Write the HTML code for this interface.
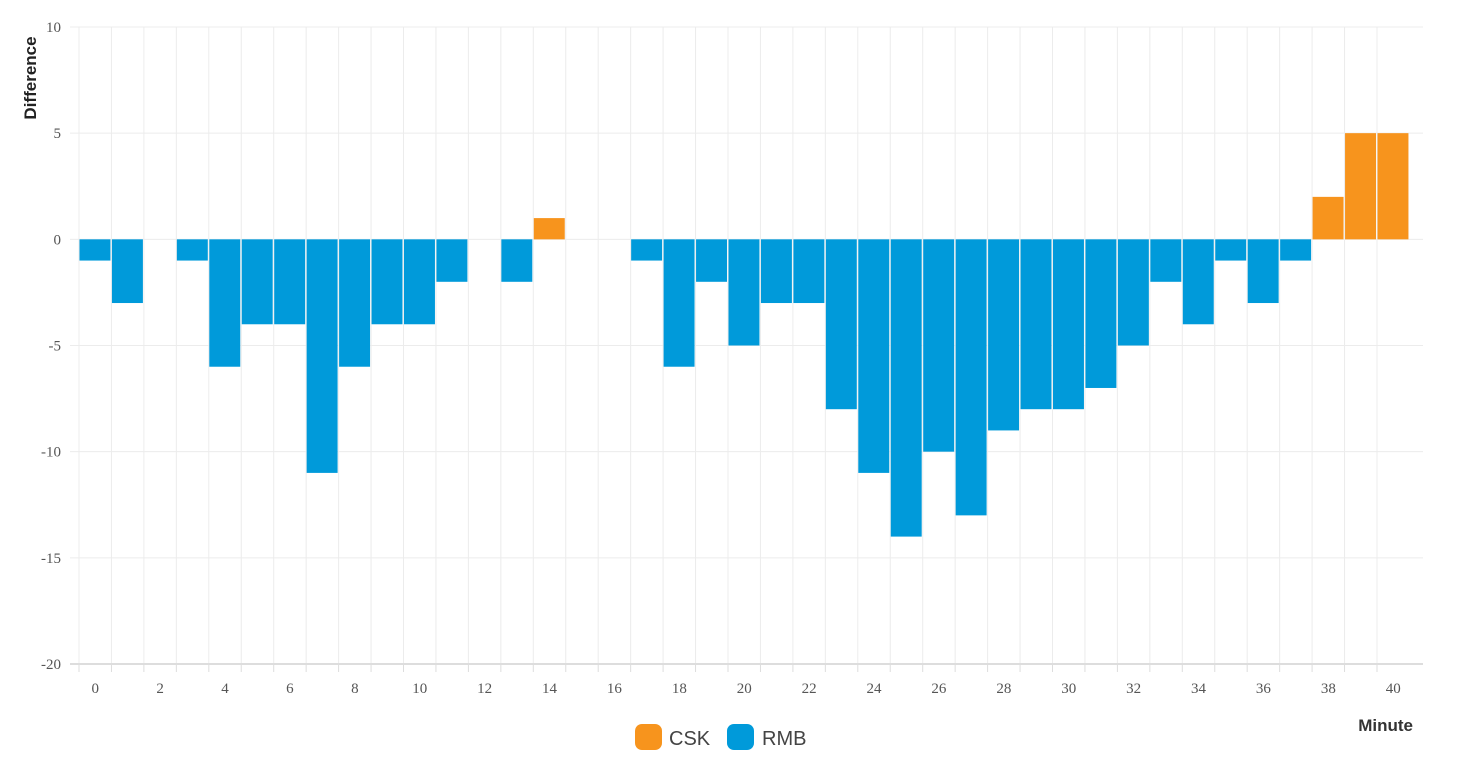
<!DOCTYPE html>
<html><head><meta charset="utf-8"><style>
body{margin:0;background:#fff;width:1460px;height:779px;overflow:hidden;font-family:"Liberation Sans",sans-serif}
svg text{font-family:"Liberation Serif",serif}
</style></head><body>
<svg id="chart" width="1460" height="779" xmlns="http://www.w3.org/2000/svg">
<g id="grid"></g>
<g id="bars"></g>
<g id="axes"></g>
<text transform="translate(36,78) rotate(-90)" text-anchor="middle" style="font-family:'Liberation Sans',sans-serif;font-weight:bold;font-size:17px" fill="#222">Difference</text>
<text x="1413" y="731" text-anchor="end" style="font-family:'Liberation Sans',sans-serif;font-weight:bold;font-size:17px" fill="#333">Minute</text>
<g>
<g><rect x="635" y="724" width="27" height="26" rx="7" fill="#f7941d"/><text x="669" y="745" style="font-family:'Liberation Sans',sans-serif;font-size:20px" fill="#444">CSK</text></g>
<g><rect x="727" y="724" width="27" height="26" rx="7" fill="#009ada"/><text x="762" y="745" style="font-family:'Liberation Sans',sans-serif;font-size:20px" fill="#444">RMB</text></g>
</g>
</svg>
<script>
const minutes = [0,1,2,3,4,5,6,7,8,9,10,11,12,13,14,15,16,17,18,19,20,21,22,23,24,25,26,27,28,29,30,31,32,33,34,35,36,37,38,39,40];
const differences = [-1,-3,0,-1,-6,-4,-4,-11,-6,-4,-4,-2,0,-2,1,0,0,-1,-6,-2,-5,-3,-3,-8,-11,-14,-10,-13,-9,-8,-8,-7,-5,-2,-4,-1,-3,-1,2,5,5];
const yTicks = [-20,-15,-10,-5,0,5,10];
const xTickLabels = [0,2,4,6,8,10,12,14,16,18,20,22,24,26,28,30,32,34,36,38,40];
const NS='http://www.w3.org/2000/svg';
const x0=79, step=32.45, plotRight=1423;
const yTop=27, yBot=664, yMin=-20, yMax=10;
function xs(i){return x0+i*step;}
function ys(v){return yTop+(yMax-v)/(yMax-yMin)*(yBot-yTop);}
function mk(t,a,parent){const e=document.createElementNS(NS,t);for(const k in a)e.setAttribute(k,a[k]);parent.appendChild(e);return e;}
const grid=document.getElementById('grid'),bars=document.getElementById('bars'),axes=document.getElementById('axes');
for(let i=0;i<minutes.length;i++){
  const l=mk('line',{x1:xs(i),x2:xs(i),y1:yTop,y2:yBot,stroke:'#ececec','stroke-width':1},grid);
  
  
  const t=mk('line',{x1:xs(i),x2:xs(i),y1:yBot,y2:yBot+8,stroke:'#ddd','stroke-width':1},axes);
  
  
}
yTicks.forEach(v=>{
  const l=mk('line',{x1:70,x2:plotRight,y1:ys(v),y2:ys(v),stroke:v===yMin?'#ddd':'#ececec','stroke-width':v===yMin?2:1},grid);
  
  
  const t=mk('text',{x:61,y:ys(v)+5,'text-anchor':'end','font-size':15,fill:'#555'},axes);
  t.textContent=v;
  
  
});
xTickLabels.forEach(m=>{
  const i=minutes.indexOf(m);
  const t=mk('text',{x:xs(i)+step/2,y:693,'text-anchor':'middle','font-size':15,fill:'#555'},axes);
  t.textContent=m;
  
  
});
differences.forEach((d,i)=>{
  if(d===0)return;
  const y1=ys(Math.max(d,0)),y2=ys(Math.min(d,0));
  const r=mk('rect',{x:xs(i)+0.5,y:y1,width:step-1.5,height:y2-y1,fill:d>0?'#f7941d':'#009ada'},bars);
  
  
});
</script>
</body></html>
